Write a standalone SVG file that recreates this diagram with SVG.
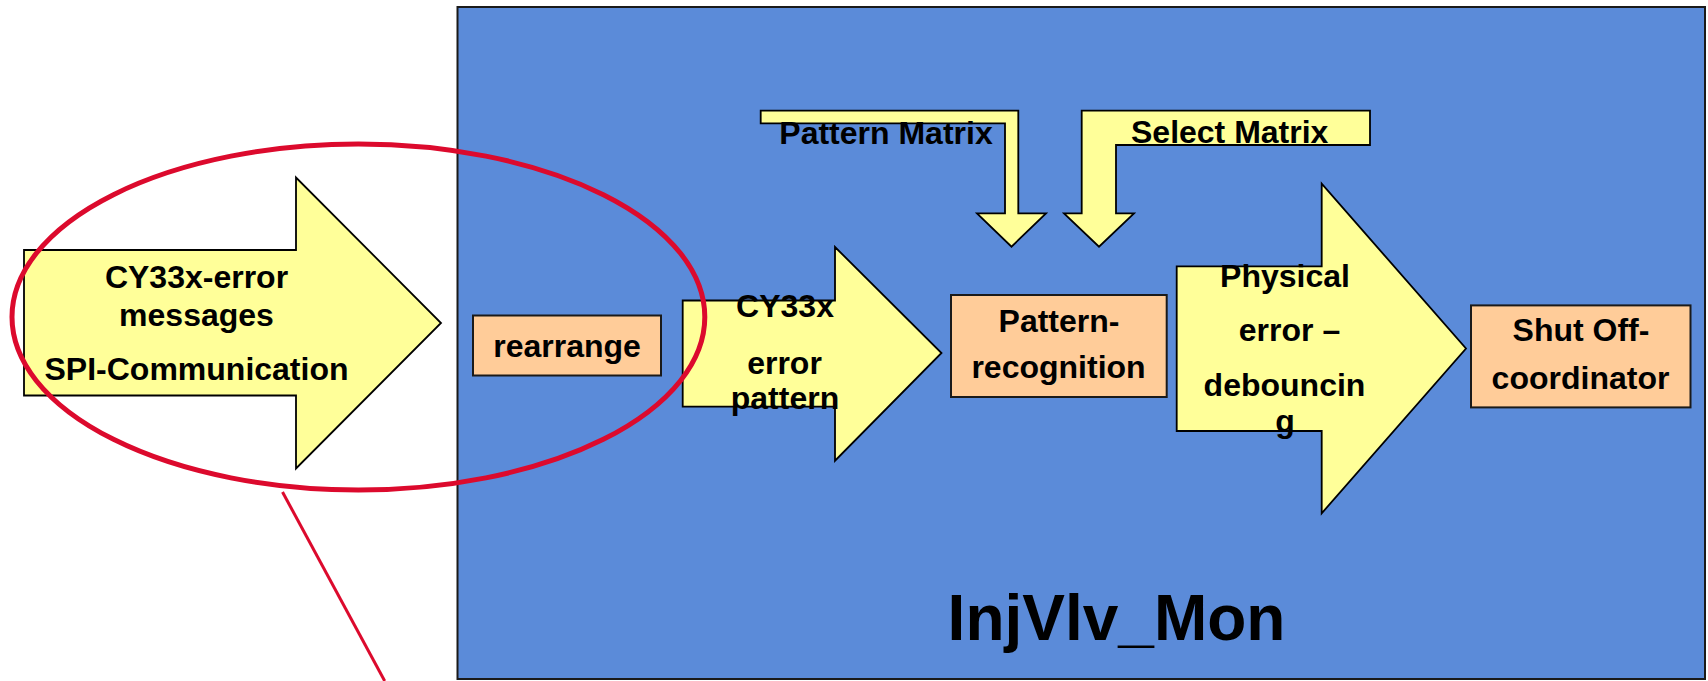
<svg xmlns="http://www.w3.org/2000/svg" width="1708" height="681" viewBox="0 0 1708 681">
<style>
.arrow{fill:#FFFF99;stroke:#000;stroke-width:1.8;stroke-linejoin:miter}
.box{fill:#FFCC99;stroke:#1a1a1a;stroke-width:2}
.t{font-family:"Liberation Sans",Arial,sans-serif;font-weight:bold;font-size:32px;fill:#000;text-anchor:middle}
.big{font-size:64px}
.red{fill:none;stroke:#DC0A2D}
</style>
<rect width="1708" height="681" fill="#FFFFFF"/>
<g id="module">
<rect x="457.5" y="7" width="1247.5" height="672" fill="#5B8BD9" stroke="#1a1a1a" stroke-width="2"/>
<text class="t big" x="1116.5" y="639.5">InjVlv_Mon</text>
</g>
<g id="connectors">
<g id="arrow-spi">
<path class="arrow" d="M24,250 L296,250 L296,177.5 L441,323 L296,468.5 L296,395.5 L24,395.5 Z"/>
<text class="t" x="196.5" y="288.3">CY33x-error</text>
<text class="t" x="196.5" y="326">messages</text>
<text class="t" x="196.5" y="380">SPI-Communication</text>
</g>
<g id="arrow-pattern-in">
<path class="arrow" d="M682.7,300.5 L835,300.5 L835,247 L941.5,353 L835,460.7 L835,406.7 L682.7,406.7 Z"/>
<text class="t" x="785" y="317">CY33x</text>
<text class="t" x="784.5" y="373.5">error</text>
<text class="t" x="785" y="409">pattern</text>
</g>
<g id="arrow-pattern-matrix">
<path class="arrow" d="M760.7,110.7 L1018.3,110.7 L1018.3,213.3 L1046,213.3 L1011.5,246.7 L977,213.3 L1005,213.3 L1005,123.3 L760.7,123.3 Z"/>
<text class="t" x="886" y="144">Pattern Matrix</text>
</g>
<g id="arrow-select-matrix">
<path class="arrow" d="M1370,110.7 L1370,145 L1116,145 L1116,213.3 L1134,213.3 L1099,246.7 L1064,213.3 L1081.7,213.3 L1081.7,110.7 Z"/>
<text class="t" x="1229.7" y="143.3">Select Matrix</text>
</g>
<g id="arrow-debounce">
<path class="arrow" d="M1176.7,266.3 L1321.7,266.3 L1321.7,183.7 L1466,348.5 L1321.7,513.3 L1321.7,431 L1176.7,431 Z"/>
<text class="t" x="1285" y="286.7">Physical</text>
<text class="t" x="1289.5" y="340.7">error –</text>
<text class="t" x="1284.5" y="395.7">debouncin</text>
<text class="t" x="1285" y="432">g</text>
</g>
</g>
<g id="rearrange">
<rect class="box" x="473" y="315.5" width="188" height="60"/>
<text class="t" x="567" y="356.5">rearrange</text>
</g>
<g id="pattern-recognition">
<rect class="box" x="951" y="295" width="215.7" height="102"/>
<text class="t" x="1059" y="332">Pattern-</text>
<text class="t" x="1058.5" y="377.5">recognition</text>
</g>
<g id="shut-off-coordinator">
<rect class="box" x="1471" y="305.4" width="219.5" height="102"/>
<text class="t" x="1581" y="341">Shut Off-</text>
<text class="t" x="1580.5" y="388.5">coordinator</text>
</g>
<g id="highlight">
<ellipse class="red" cx="358.4" cy="317" rx="346.4" ry="173" stroke-width="5"/>
<line class="red" x1="282.5" y1="492" x2="384.7" y2="681" stroke-width="3"/>
</g>
</svg>
